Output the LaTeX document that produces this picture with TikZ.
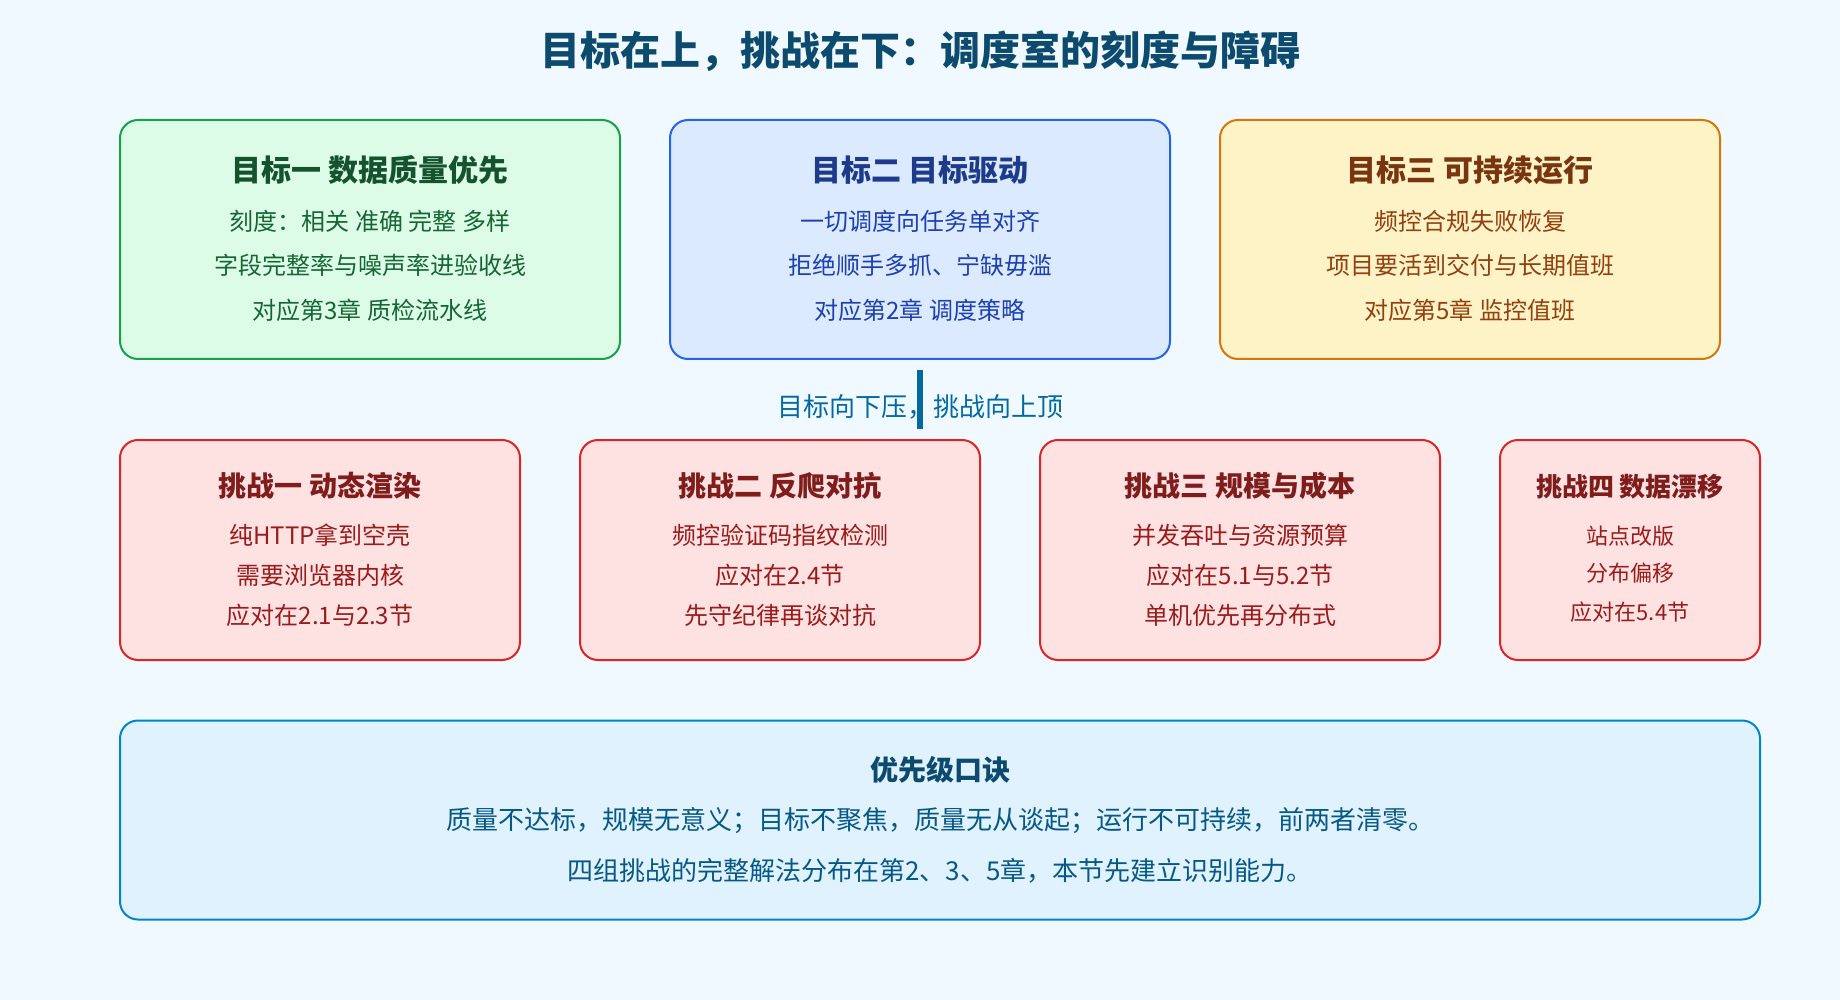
\documentclass[tikz,border=0pt]{standalone}
\usepackage{fontspec}
\setmainfont{Noto Sans CJK SC}
\definecolor{bgc}{HTML}{F0F9FF}
\definecolor{ttlc}{HTML}{0C4A6E}
\definecolor{gAfill}{HTML}{DCFCE7}\definecolor{gAdraw}{HTML}{16A34A}\definecolor{gAtitle}{HTML}{14532D}\definecolor{gAtext}{HTML}{166534}
\definecolor{gBfill}{HTML}{DBEAFE}\definecolor{gBdraw}{HTML}{2563EB}\definecolor{gBtitle}{HTML}{1E3A8A}\definecolor{gBtext}{HTML}{1E40AF}
\definecolor{gCfill}{HTML}{FEF3C7}\definecolor{gCdraw}{HTML}{D97706}\definecolor{gCtitle}{HTML}{78350F}\definecolor{gCtext}{HTML}{92400E}
\definecolor{cfill}{HTML}{FEE2E2}\definecolor{cdraw}{HTML}{DC2626}\definecolor{ctitle}{HTML}{7F1D1D}\definecolor{ctext}{HTML}{991B1B}
\definecolor{bfill}{HTML}{E0F2FE}\definecolor{bdraw}{HTML}{0284C7}\definecolor{btitle}{HTML}{0C4A6E}\definecolor{btext}{HTML}{075985}
\definecolor{midc}{HTML}{0369A1}
\begin{document}
\begin{tikzpicture}[x=1pt,y=-1pt,
  card/.style={rectangle,rounded corners=18pt,line width=2pt,inner sep=0pt},
  ttl/.style={inner sep=0pt,font=\bfseries\fontsize{30}{36}\selectfont},
  ttlsm/.style={inner sep=0pt,font=\bfseries\fontsize{28}{34}\selectfont},
  ttlxs/.style={inner sep=0pt,font=\bfseries\fontsize{26}{32}\selectfont},
  body/.style={inner sep=0pt,font=\fontsize{24}{30}\selectfont},
  bodysm/.style={inner sep=0pt,font=\fontsize{22}{28}\selectfont},
  bodylg/.style={inner sep=0pt,font=\fontsize{26}{32}\selectfont},
  bar/.style={line width=6pt,draw=midc}]
\fill[bgc] (0,0) rectangle (1840,1000);
\useasboundingbox (0,0) rectangle (1840,1000);
% title
\node[inner sep=0pt,text=ttlc,font=\bfseries\fontsize{40}{48}\selectfont] (title) at (920,51) {目标在上，挑战在下：调度室的刻度与障碍};
% goal cards
\node[card,fill=gAfill,draw=gAdraw,minimum width=500pt,minimum height=239pt] (g1) at (370,239.5) {};
\node[card,fill=gBfill,draw=gBdraw,minimum width=500pt,minimum height=239pt] (g2) at (920,239.5) {};
\node[card,fill=gCfill,draw=gCdraw,minimum width=500pt,minimum height=239pt] (g3) at (1470,239.5) {};
\node[ttl,text=gAtitle] (g1t) at (370,170) {目标一 数据质量优先};
\node[body,text=gAtext] (g1a) at (370,221) {刻度：相关 准确 完整 多样};
\node[body,text=gAtext] (g1b) at (370,265.5) {字段完整率与噪声率进验收线};
\node[body,text=gAtext] (g1c) at (370,310) {对应第3章 质检流水线};
\node[ttl,text=gBtitle] (g2t) at (920,170) {目标二 目标驱动};
\node[body,text=gBtext] (g2a) at (920,221) {一切调度向任务单对齐};
\node[body,text=gBtext] (g2b) at (920,265.5) {拒绝顺手多抓、宁缺毋滥};
\node[body,text=gBtext] (g2c) at (920,310) {对应第2章 调度策略};
\node[ttl,text=gCtitle] (g3t) at (1470,170) {目标三 可持续运行};
\node[body,text=gCtext] (g3a) at (1470,221) {频控合规失败恢复};
\node[body,text=gCtext] (g3b) at (1470,265.5) {项目要活到交付与长期值班};
\node[body,text=gCtext] (g3c) at (1470,310) {对应第5章 监控值班};
% middle label and bar
\node[inner sep=0pt,text=midc,font=\fontsize{26}{32}\selectfont] (mid) at (920,407) {目标向下压，挑战向上顶};
\coordinate (bt) at (920,370);
\coordinate (bb) at (920,429);
\draw[bar] (bt) -- (bb);
% challenge cards
\node[card,fill=cfill,draw=cdraw,minimum width=400pt,minimum height=220pt] (c1) at (320,550) {};
\node[card,fill=cfill,draw=cdraw,minimum width=400pt,minimum height=220pt] (c2) at (780,550) {};
\node[card,fill=cfill,draw=cdraw,minimum width=400pt,minimum height=220pt] (c3) at (1240,550) {};
\node[card,fill=cfill,draw=cdraw,minimum width=260pt,minimum height=220pt] (c4) at (1630,550) {};
\node[ttlsm,text=ctitle] (c1t) at (320,486) {挑战一 动态渲染};
\node[body,text=ctext] (c1a) at (320,535.5) {纯HTTP拿到空壳};
\node[body,text=ctext] (c1b) at (320,575.5) {需要浏览器内核};
\node[body,text=ctext] (c1c) at (320,615) {应对在2.1与2.3节};
\node[ttlsm,text=ctitle] (c2t) at (780,486) {挑战二 反爬对抗};
\node[body,text=ctext] (c2a) at (780,535.5) {频控验证码指纹检测};
\node[body,text=ctext] (c2b) at (780,575.5) {应对在2.4节};
\node[body,text=ctext] (c2c) at (780,615) {先守纪律再谈对抗};
\node[ttlsm,text=ctitle] (c3t) at (1240,486) {挑战三 规模与成本};
\node[body,text=ctext] (c3a) at (1240,535.5) {并发吞吐与资源预算};
\node[body,text=ctext] (c3b) at (1240,575.5) {应对在5.1与5.2节};
\node[body,text=ctext] (c3c) at (1240,615) {单机优先再分布式};
\node[ttlxs,text=ctitle] (c4t) at (1630,487) {挑战四 数据漂移};
\node[bodysm,text=ctext] (c4a) at (1630,536) {站点改版};
\node[bodysm,text=ctext] (c4b) at (1630,573) {分布偏移};
\node[bodysm,text=ctext] (c4c) at (1630,612) {应对在5.4节};
% bottom card
\node[card,fill=bfill,draw=bdraw,minimum width=1640pt,minimum height=199pt] (bx) at (940,820) {};
\node[ttlsm,text=btitle] (bxt) at (940,770) {优先级口诀};
\node[bodylg,text=btext] (bxa) at (940,821) {质量不达标，规模无意义；目标不聚焦，质量无从谈起；运行不可持续，前两者清零。};
\node[bodylg,text=btext] (bxb) at (940,871) {四组挑战的完整解法分布在第2、3、5章，本节先建立识别能力。};
\end{tikzpicture}
\end{document}
